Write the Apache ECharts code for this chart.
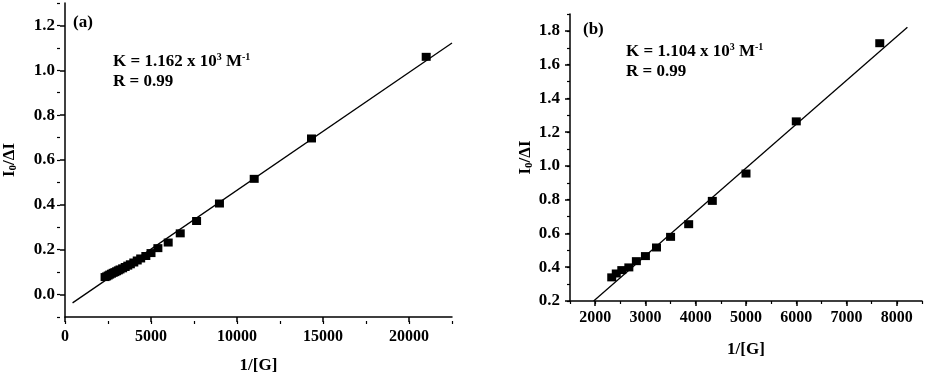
<!DOCTYPE html>
<html>
<head>
<meta charset="utf-8">
<script src="https://cdn.jsdelivr.net/npm/echarts@6/dist/echarts.min.js"></script>
<style>
  html, body { margin: 0; padding: 0; background: #fff; }
  #chart { width: 926px; height: 379px; }
</style>
</head>
<body>
<div id="chart"></div>
<script>
  // panel (a)
  const xA = [2330, 2420, 2510, 2600, 2700, 2800, 2900, 3000, 3100, 3200, 3350, 3500, 3650, 3800, 4000, 4200, 4400, 4700, 5000, 5400, 6000, 6700, 7650, 8980, 11000, 14330, 21000];
  const yA = [0.078, 0.081, 0.085, 0.089, 0.093, 0.097, 0.100, 0.104, 0.108, 0.112, 0.117, 0.123, 0.129, 0.135, 0.143, 0.152, 0.161, 0.172, 0.185, 0.207, 0.232, 0.273, 0.328, 0.406, 0.516, 0.696, 1.060];
  const fitA = [[440, -0.037], [22500, 1.122]];
  const xTicksA = [0, 5000, 10000, 15000, 20000];
  const yTicksA = [0, 0.2, 0.4, 0.6, 0.8, 1.0, 1.2];

  // panel (b)
  const xB = [2330, 2420, 2530, 2670, 2820, 3000, 3220, 3500, 3860, 4330, 5000, 6000, 7660];
  const yB = [0.340, 0.363, 0.383, 0.399, 0.436, 0.466, 0.517, 0.580, 0.655, 0.793, 0.955, 1.264, 1.727];
  const fitB = [[1970, 0.2], [8210, 1.821]];
  const xTicksB = [2000, 3000, 4000, 5000, 6000, 7000, 8000];
  const yTicksB = [0.2, 0.4, 0.6, 0.8, 1.0, 1.2, 1.4, 1.6, 1.8];

  const font = '"Liberation Serif", "Times New Roman", serif';
  const black = '#000';
  const rich = {
    sup: { fontSize: 10, fontWeight: 'bold', fontFamily: font, color: black, verticalAlign: 'top', padding: [0, 0, 8, 0] },
    sub: { fontSize: 11, fontWeight: 'bold', fontFamily: font, color: black, padding: [8, 0, 0, 0] }
  };
  const txt = { fontFamily: font, fontWeight: 'bold', fontSize: 17, color: black, lineHeight: 20, rich: rich };

  const grids = [
    { left: 60, top: 3, width: 392, height: 318 },
    { left: 570, top: 14, width: 352, height: 287 }
  ];

  function pairs(xs, ys) { return xs.map((x, i) => [x, ys[i]]); }

  function xAxisOf(grid, min, max, labels, margin, minorStep) {
    return [{
      gridIndex: grid, type: 'value', min: min, max: max, position: 'bottom',
      name: '1/[G]', nameLocation: 'middle', nameGap: 40,
      nameTextStyle: { fontFamily: font, fontWeight: 'bold', fontSize: 17, color: black },
      axisLine: { onZero: false, lineStyle: { color: black, width: 1.5 } },
      axisTick: { customValues: labels, length: 5, lineStyle: { color: black, width: 1.5 } },
      axisLabel: { customValues: labels, margin: margin, fontFamily: font, fontWeight: 'bold', fontSize: 16, color: black,
        formatter: v => String(v) },
      splitLine: { show: false }
    }, {
      // minor ticks: a top axis moved down onto the bottom edge
      gridIndex: grid, type: 'value', min: min, max: max, interval: minorStep,
      position: 'top', offset: -grids[grid].height,
      axisLine: { show: false, onZero: false }, axisLabel: { show: false }, splitLine: { show: false },
      axisTick: { inside: true, length: 3, lineStyle: { color: black, width: 1.2 } }
    }];
  }

  function yAxisOf(grid, min, max, labels, gap) {
    return [{
      gridIndex: grid, type: 'value', min: min, max: max, position: 'left',
      name: 'I{sub|0}/ΔI', nameLocation: 'middle', nameGap: gap, nameRotate: 90,
      nameTextStyle: { fontFamily: font, fontWeight: 'bold', fontSize: 17, color: black, rich: rich },
      axisLine: { onZero: false, lineStyle: { color: black, width: 1.5 } },
      axisTick: { customValues: labels, length: 5, lineStyle: { color: black, width: 1.5 } },
      axisLabel: { customValues: labels, margin: 10, fontFamily: font, fontWeight: 'bold', fontSize: 17, color: black,
        formatter: v => v.toFixed(1) },
      splitLine: { show: false }
    }, {
      // minor ticks: a right axis moved onto the left edge
      gridIndex: grid, type: 'value', min: min, max: max, interval: 0.1,
      position: 'right', offset: -grids[grid].width,
      axisLine: { show: false, onZero: false }, axisLabel: { show: false }, splitLine: { show: false },
      axisTick: { inside: true, length: 3, lineStyle: { color: black, width: 1.2 } }
    }];
  }

  const chart = echarts.init(document.getElementById('chart'));
  chart.setOption({
    animation: false,
    backgroundColor: '#fff',
    title: [
      { text: '(a)', left: 73, top: 13, padding: 0, textStyle: txt },
      { text: 'K = 1.162 x 10{sup|3} M{sup|-1}\nR = 0.99', left: 113, top: 52, padding: 0, textStyle: txt },
      { text: '(b)', left: 583, top: 20, padding: 0, textStyle: txt },
      { text: 'K = 1.104 x 10{sup|3} M{sup|-1}\nR = 0.99', left: 626, top: 42, padding: 0, textStyle: txt }
    ],
    grid: grids,
    xAxis: [].concat(
      xAxisOf(0, 0, 22500, xTicksA, 12, 2500),
      xAxisOf(1, 1500, 8500, xTicksB, 9, 500)
    ),
    yAxis: [].concat(
      yAxisOf(0, -0.1, 1.3, yTicksA, 46),
      yAxisOf(1, 0.2, 1.9, yTicksB, 34)
    ),
    series: [
      { type: 'line', xAxisIndex: 0, yAxisIndex: 0, data: fitA, symbol: 'none',
        lineStyle: { color: black, width: 1.3 }, z: 1 },
      { type: 'scatter', xAxisIndex: 0, yAxisIndex: 0, data: pairs(xA, yA), symbol: 'rect',
        symbolSize: [9, 8], itemStyle: { color: black, opacity: 1 }, z: 2 },
      { type: 'line', xAxisIndex: 2, yAxisIndex: 2, data: fitB, symbol: 'none',
        lineStyle: { color: black, width: 1.3 }, z: 1 },
      { type: 'scatter', xAxisIndex: 2, yAxisIndex: 2, data: pairs(xB, yB), symbol: 'rect',
        symbolSize: [9, 8], itemStyle: { color: black, opacity: 1 }, z: 2 }
    ]
  });
</script>
</body>
</html>
